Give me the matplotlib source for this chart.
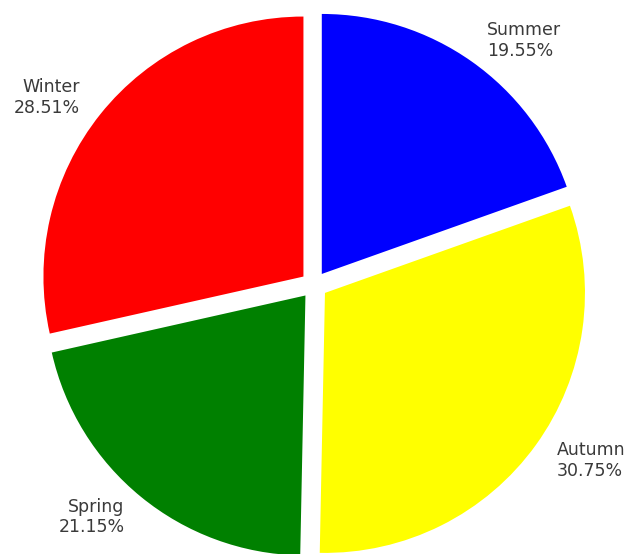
import matplotlib
matplotlib.use("Agg")
import matplotlib.pyplot as plt

# Share of yearly total by season
seasons = ["Summer", "Autumn", "Spring", "Winter"]
shares = [19.55, 30.75, 21.15, 28.51]
colors = ["blue", "yellow", "green", "red"]
explode = [0.052, 0.052, 0.052, 0.052]

labels = [f"{s}\n{v:.2f}%" for s, v in zip(seasons, shares)]

fig = plt.figure(figsize=(6.28, 5.54), dpi=100)
ax = fig.add_axes([0, 0, 1, 1])

wedges, texts = ax.pie(
    shares,
    labels=labels,
    colors=colors,
    explode=explode,
    startangle=90,
    counterclock=False,
    labeldistance=1.1,
    textprops={"fontsize": 12.5, "color": "#3a3a3a"},
)

# Frame the pie so it sits slightly low and runs off the bottom edge
r_px = 260.0
cx, cy = 314.0, 285.0
W, H = 628.0, 554.0
ax.set_aspect("auto")
ax.set_xlim((0 - cx) / r_px, (W - cx) / r_px)
ax.set_ylim((cy - H) / r_px, (cy - 0) / r_px)
ax.axis("off")

fig.savefig("out.png", dpi=100, facecolor="white")
